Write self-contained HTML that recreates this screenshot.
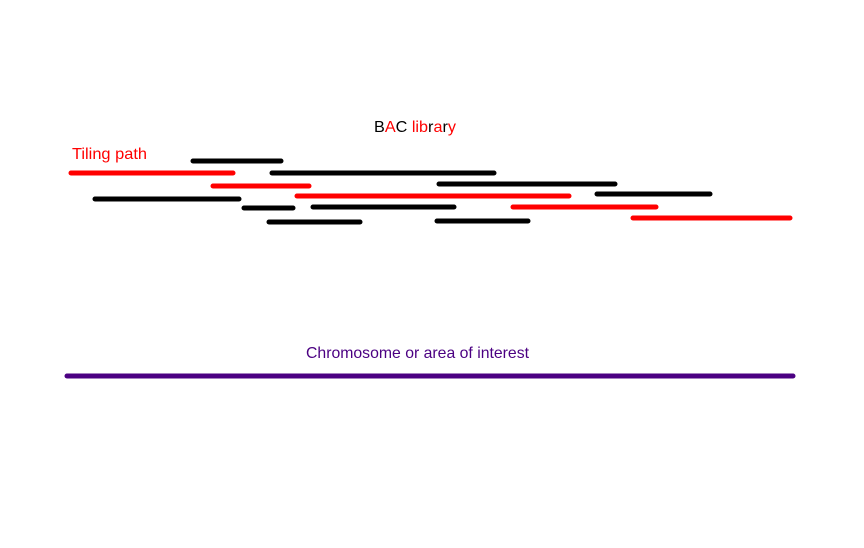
<!DOCTYPE html><html><head><style>body{margin:0;background:#fff}</style></head><body>
<svg width="864" height="543" xmlns="http://www.w3.org/2000/svg" font-family="Liberation Sans, sans-serif" font-size="16">
<rect width="864" height="543" fill="#fff"/>
<text x="374" y="132" textLength="82" lengthAdjust="spacingAndGlyphs"><tspan fill="#000">B</tspan><tspan fill="red">A</tspan><tspan fill="#000">C </tspan><tspan fill="red">lib</tspan><tspan fill="#000">r</tspan><tspan fill="red">a</tspan><tspan fill="#000">r</tspan><tspan fill="red">y</tspan></text>
<text x="72" y="159" fill="red" textLength="75" lengthAdjust="spacingAndGlyphs">Tiling path</text>
<g stroke-width="5" stroke-linecap="round">
<g stroke="#000">
<line x1="193" y1="161" x2="281" y2="161"/>
<line x1="272" y1="173" x2="494" y2="173"/>
<line x1="439" y1="184" x2="615" y2="184"/>
<line x1="597" y1="194" x2="710" y2="194"/>
<line x1="95" y1="199" x2="239" y2="199"/>
<line x1="244" y1="208" x2="293" y2="208"/>
<line x1="313" y1="207" x2="454" y2="207"/>
<line x1="269" y1="222" x2="360" y2="222"/>
<line x1="437" y1="221" x2="528" y2="221"/>
</g>
<g stroke="red">
<line x1="71" y1="173" x2="233" y2="173"/>
<line x1="213" y1="186" x2="309" y2="186"/>
<line x1="297" y1="196" x2="569" y2="196"/>
<line x1="513" y1="207" x2="656" y2="207"/>
<line x1="633" y1="218" x2="790" y2="218"/>
</g>
<line x1="67" y1="376" x2="793" y2="376" stroke="#4b0082"/>
</g>
<text x="306" y="358" fill="#4b0082" textLength="223" lengthAdjust="spacingAndGlyphs">Chromosome or area of interest</text>
</svg></body></html>
